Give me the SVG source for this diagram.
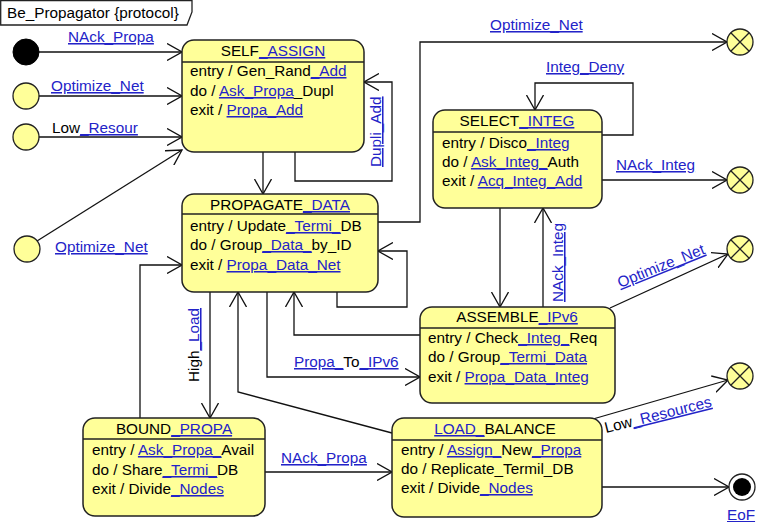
<svg xmlns="http://www.w3.org/2000/svg" width="761" height="522" viewBox="0 0 761 522">
<style>
text{font-family:"Liberation Sans",Arial,sans-serif;font-size:15.3px;fill:#000}
.lk{fill:#2323c8;text-decoration:underline}
.box{fill:#ffff99;stroke:#222;stroke-width:1.5}
.sep{stroke:#222;stroke-width:1.3}
.ps{fill:#ffff99;stroke:#222;stroke-width:1.3}
.c{fill:none;stroke:#111;stroke-width:1.3;marker-end:url(#ah)}
.mid{text-anchor:middle}
</style>
<defs>
<marker id="ah" viewBox="0 0 16 18" refX="15" refY="9" markerWidth="16" markerHeight="18" markerUnits="userSpaceOnUse" orient="auto">
<path d="M0,0.5 L15,9 L0,17.5" fill="none" stroke="#111" stroke-width="1.3"/>
</marker>
</defs>
<rect width="761" height="522" fill="#fff"/>
<g id="frame-title">
<path d="M0.7,0.7 H192 V12 L187,25 H0.7 Z" fill="#fff" stroke="#222" stroke-width="1.3"/>
<text x="7" y="18">Be_Propagator {protocol}</text>
</g>

<g id="connectors">
<line class="c" x1="39" y1="52" x2="182" y2="52"/>
<line class="c" x1="39" y1="96" x2="182" y2="96"/>
<line class="c" x1="39" y1="137" x2="182" y2="137"/>
<line class="c" x1="37" y1="241" x2="182" y2="150"/>
<line class="c" x1="263" y1="152" x2="263" y2="194"/>
<polyline class="c" points="295,152 295,181 392,181 392,82 364,82"/>
<polyline class="c" points="378,222 420,222 420,42 727,42"/>
<polyline class="c" points="337,292 337,307 407,307 407,251 378,251"/>
<line class="c" x1="210" y1="292" x2="210" y2="418"/>
<polyline class="c" points="140,418 140,265 182,265"/>
<polyline class="c" points="392,433 238,392 238,292"/>
<polyline class="c" points="267,292 267,377 420,377"/>
<polyline class="c" points="420,335 294,335 294,292"/>
<line class="c" x1="500" y1="208" x2="500" y2="307"/>
<line class="c" x1="543" y1="307" x2="543" y2="208"/>
<polyline class="c" points="602,135 633,135 633,83 535,83 535,110"/>
<line class="c" x1="602" y1="180" x2="727" y2="180"/>
<line class="c" x1="610" y1="308" x2="728" y2="254"/>
<line class="c" x1="593" y1="419" x2="728" y2="380"/>
<line class="c" x1="265" y1="472" x2="392" y2="472"/>
<line class="c" x1="602" y1="487" x2="729" y2="487"/>

<text x="68" y="42" class="lk">NAck_Propa</text>
<text x="51" y="91" class="lk">Optimize_Net</text>
<text x="52" y="133">Low<tspan class="lk">_Resour</tspan></text>
<text x="55" y="252" class="lk">Optimize_Net</text>
<text class="lk" transform="translate(381,167) rotate(-90)">Dupli_Add</text>
<text x="490" y="30" class="lk">Optimize_Net</text>
<text x="546" y="72" class="lk">Integ_Deny</text>
<text x="616" y="170" class="lk">NAck_Integ</text>
<text class="lk" transform="translate(563,302) rotate(-90)">NAck_Integ</text>
<text class="lk" transform="translate(620,288) rotate(-22)">Optimize_Net</text>
<text transform="translate(606,433) rotate(-14)">Low<tspan class="lk">_Resources</tspan></text>
<text transform="translate(199,382) rotate(-90)">High<tspan class="lk">_Load</tspan></text>
<text x="294" y="367"><tspan class="lk">Propa_</tspan>To<tspan class="lk">_IPv6</tspan></text>
<text x="281" y="463" class="lk">NAck_Propa</text>
<text x="727" y="520" class="lk">EoF</text>
</g>

<g id="init">
<circle cx="26" cy="52" r="13" fill="#000" stroke="#000"/>
</g>
<g id="entry-optimize-1"><circle class="ps" cx="26" cy="96" r="13"/></g>
<g id="entry-lowresour"><circle class="ps" cx="26" cy="137" r="13"/></g>
<g id="entry-optimize-2"><circle class="ps" cx="27" cy="249" r="13"/></g>

<g id="exit-top">
<circle class="ps" cx="740" cy="42" r="13"/>
<path d="M730.8,32.8 L749.2,51.2 M749.2,32.8 L730.8,51.2" stroke="#222" stroke-width="1.3"/>
</g>
<g id="exit-nack-integ">
<circle class="ps" cx="740" cy="180" r="13"/>
<path d="M730.8,170.8 L749.2,189.2 M749.2,170.8 L730.8,189.2" stroke="#222" stroke-width="1.3"/>
</g>
<g id="exit-optimize">
<circle class="ps" cx="740" cy="249" r="13"/>
<path d="M730.8,239.8 L749.2,258.2 M749.2,239.8 L730.8,258.2" stroke="#222" stroke-width="1.3"/>
</g>
<g id="exit-low">
<circle class="ps" cx="740" cy="376" r="13"/>
<path d="M730.8,366.8 L749.2,385.2 M749.2,366.8 L730.8,385.2" stroke="#222" stroke-width="1.3"/>
</g>
<g id="final-eof">
<circle cx="742" cy="487" r="13" fill="#fff" stroke="#222" stroke-width="1.3"/>
<circle cx="742" cy="487" r="9" fill="#000"/>
</g>

<g id="self-assign">
<rect class="box" x="182" y="40" width="182" height="112" rx="12"/>
<line class="sep" x1="182" y1="62" x2="364" y2="62"/>
<text x="273" y="56" class="mid">SELF<tspan class="lk">_ASSIGN</tspan></text>
<text x="190" y="76">entry / Gen_Rand<tspan class="lk">_Add</tspan></text>
<text x="190" y="96">do / <tspan class="lk">Ask_Propa</tspan>_Dupl</text>
<text x="190" y="115">exit / <tspan class="lk">Propa_Add</tspan></text>
</g>

<g id="propagate-data">
<rect class="box" x="182" y="194" width="196" height="98" rx="12"/>
<line class="sep" x1="182" y1="214" x2="378" y2="214"/>
<text x="280" y="210" class="mid">PROPAGATE<tspan class="lk">_DATA</tspan></text>
<text x="190" y="231">entry / Update<tspan class="lk">_Termi_</tspan>DB</text>
<text x="190" y="250">do / Group<tspan class="lk">_Data_</tspan>by_ID</text>
<text x="190" y="270">exit / <tspan class="lk">Propa_Data_Net</tspan></text>
</g>

<g id="select-integ">
<rect class="box" x="433" y="110" width="169" height="98" rx="12"/>
<line class="sep" x1="433" y1="132" x2="602" y2="132"/>
<text x="517" y="126" class="mid">SELECT<tspan class="lk">_INTEG</tspan></text>
<text x="442" y="148">entry / Disco<tspan class="lk">_Integ</tspan></text>
<text x="442" y="167">do / <tspan class="lk">Ask_Integ_</tspan>Auth</text>
<text x="442" y="186">exit / <tspan class="lk">Acq_Integ_Add</tspan></text>
</g>

<g id="assemble-ipv6">
<rect class="box" x="420" y="307" width="195" height="96" rx="12"/>
<line class="sep" x1="420" y1="328" x2="615" y2="328"/>
<text x="517" y="322" class="mid">ASSEMBLE<tspan class="lk">_IPv6</tspan></text>
<text x="428" y="343">entry / Check<tspan class="lk">_Integ_</tspan>Req</text>
<text x="428" y="362">do / Group<tspan class="lk">_Termi_Data</tspan></text>
<text x="428" y="382">exit / <tspan class="lk">Propa_Data_Integ</tspan></text>
</g>

<g id="bound-propa">
<rect class="box" x="83" y="418" width="182" height="98" rx="12"/>
<line class="sep" x1="83" y1="439" x2="265" y2="439"/>
<text x="174" y="434" class="mid">BOUND<tspan class="lk">_PROPA</tspan></text>
<text x="92" y="455">entry / <tspan class="lk">Ask_Propa_</tspan>Avail</text>
<text x="92" y="475">do / Share<tspan class="lk">_Termi_</tspan>DB</text>
<text x="92" y="494">exit / Divide<tspan class="lk">_Nodes</tspan></text>
</g>

<g id="load-balance">
<rect class="box" x="392" y="418" width="210" height="99" rx="12"/>
<line class="sep" x1="392" y1="440" x2="602" y2="440"/>
<text x="495" y="434" class="mid"><tspan class="lk">LOAD_</tspan>BALANCE</text>
<text x="401" y="455">entry / <tspan class="lk">Assign_</tspan>New<tspan class="lk">_Propa</tspan></text>
<text x="401" y="474">do / Replicate_Termil_DB</text>
<text x="401" y="493">exit / Divide<tspan class="lk">_Nodes</tspan></text>
</g>
</svg>
